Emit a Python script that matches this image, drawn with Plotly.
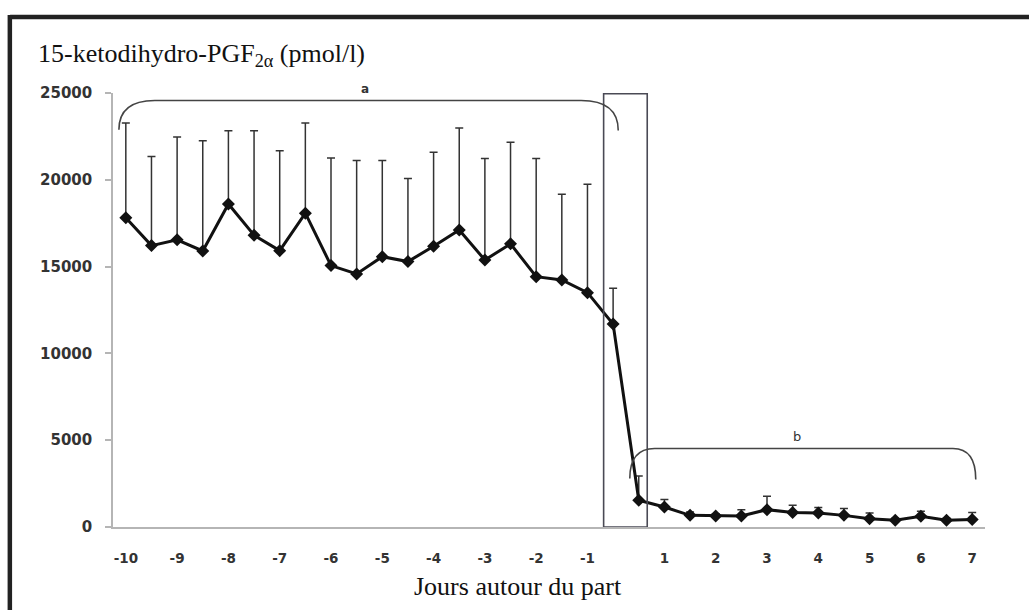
import plotly.graph_objects as go

# Categories: days around parturition (half-day sampling), day 0 absent
days = [-10, -9.5, -9, -8.5, -8, -7.5, -7, -6.5, -6, -5.5, -5, -4.5, -4, -3.5,
        -3, -2.5, -2, -1.5, -1, -0.5, 0.5, 1, 1.5, 2, 2.5, 3, 3.5, 4, 4.5, 5,
        5.5, 6, 6.5, 7]
# Mean 15-ketodihydro-PGF2alpha (pmol/l)
mean_vals = [17820, 16210, 16540, 15900, 18610, 16810, 15920, 18080, 15060, 14580,
             15570, 15290, 16170, 17110, 15380, 16310, 14420, 14230, 13500, 11690,
             1540, 1150, 670, 630, 630, 1000, 830, 810, 670, 480,
             390, 620, 390, 430]
# Upper end of error bars (mean + SD)
upper_vals = [23270, 21340, 22460, 22250, 22830, 22830, 21670, 23270, 21250, 21110,
              21110, 20070, 21590, 22980, 21230, 22170, 21230, 19170, 19750, 13750,
              2940, 1580, 870, 770, 1000, 1770, 1250, 1120, 1060, 810,
              500, 910, 500, 830]
y_ticks = [0, 5000, 10000, 15000, 20000, 25000]
x_tick_labels = ["-10", "-9", "-8", "-7", "-6", "-5", "-4", "-3", "-2", "-1",
                 "1", "2", "3", "4", "5", "6", "7"]
x_tick_days = [-10, -9, -8, -7, -6, -5, -4, -3, -2, -1, 1, 2, 3, 4, 5, 6, 7]

idx = list(range(len(days)))
sd_vals = [u - m for u, m in zip(upper_vals, mean_vals)]
tick_idx = [days.index(d) for d in x_tick_days]

fig = go.Figure()
fig.add_trace(go.Scatter(
    x=idx, y=mean_vals, mode="lines+markers",
    line=dict(color="#111111", width=3),
    marker=dict(symbol="diamond", size=10, color="#111111"),
    error_y=dict(type="data", symmetric=False, array=sd_vals,
                 arrayminus=[0] * len(sd_vals), color="#333333",
                 thickness=1.5, width=4),
    cliponaxis=False, showlegend=False,
))

# Box around the parturition interval
fig.add_shape(type="rect", xref="x", yref="y", x0=18.63, x1=20.33, y0=0, y1=24960,
              line=dict(color="#4a4a55", width=1.6), layer="above")

# Brace "a"
fig.add_shape(type="path", xref="x", yref="y",
              path="M -0.27,22880 Q -0.27,24570 1.13,24570 L 17.75,24570 Q 19.2,24570 19.2,22840",
              line=dict(color="#444444", width=1.6))
# Brace "b"
fig.add_shape(type="path", xref="x", yref="y",
              path="M 19.65,2790 Q 19.65,4520 20.62,4520 L 32.25,4520 Q 33.14,4520 33.14,2730",
              line=dict(color="#444444", width=1.6))

fig.add_annotation(x=9.32, y=1.0085, xref="x", yref="paper", yanchor="middle",
                   text="a", showarrow=False,
                   font=dict(family="DejaVu Sans", size=12, color="#333333", weight="bold"))
fig.add_annotation(x=26.18, y=5230, xref="x", yref="y", yanchor="middle",
                   text="b", showarrow=False,
                   font=dict(family="DejaVu Sans", size=13, color="#333333"))

# Titles
fig.add_annotation(x=-0.0883, y=1.0876, xref="paper", yref="paper", xanchor="left",
                   yanchor="middle", showarrow=False,
                   text="15-ketodihydro-PGF<sub>2α</sub> (pmol/l)",
                   font=dict(family="Liberation Serif", size=26, color="#111111"))
fig.add_annotation(x=0.464, y=-0.136, xref="paper", yref="paper", xanchor="center",
                   yanchor="middle", showarrow=False, text="Jours autour du part",
                   font=dict(family="Liberation Serif", size=26, color="#111111"))

# Outer frame (top and left)
fig.add_shape(type="line", xref="paper", yref="paper", x0=-0.118, x1=1.06, y0=1.175, y1=1.175,
              line=dict(color="#222222", width=4.5))
fig.add_shape(type="line", xref="paper", yref="paper", x0=-0.1183, x1=-0.1183, y0=1.18, y1=-0.25,
              line=dict(color="#222222", width=4.5))

fig.update_layout(
    width=1029, height=610,
    margin=dict(l=113, r=44, t=93, b=83, pad=0),
    paper_bgcolor="white", plot_bgcolor="white",
    xaxis=dict(range=[-0.5, 33.5], showgrid=False, zeroline=False,
               showline=True, linecolor="#b5b5b5", linewidth=2,
               tickmode="array", tickvals=tick_idx, ticktext=x_tick_labels,
               ticks="", ticklabelstandoff=18,
               tickfont=dict(family="DejaVu Sans", size=13.5, color="#333333", weight="bold")),
    yaxis=dict(range=[0, 25000], showgrid=False, zeroline=False,
               showline=True, linecolor="#b5b5b5", linewidth=1.5,
               tickmode="array", tickvals=y_ticks, ticktext=[str(v) for v in y_ticks],
               ticks="outside", ticklen=6, tickcolor="#b5b5b5", tickwidth=1.5,
               ticklabelstandoff=10,
               tickfont=dict(family="DejaVu Sans", size=15, color="#333333", weight="bold")),
)

fig.write_html("out.html")
